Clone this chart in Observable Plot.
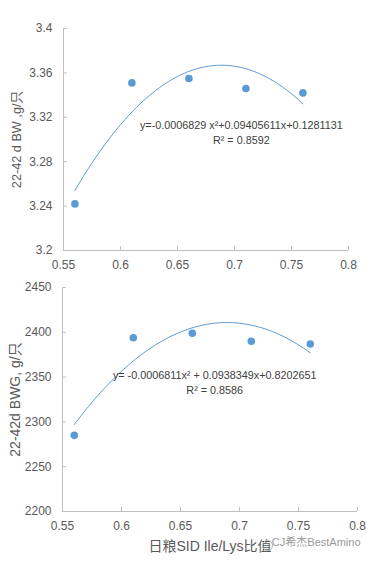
<!DOCTYPE html>
<html><head><meta charset="utf-8">
<script src="https://cdn.jsdelivr.net/npm/d3@7"></script>
<script src="https://cdn.jsdelivr.net/npm/@observablehq/plot@0.6"></script>
<style>
body{margin:0;background:#fff;}
#c{width:371px;}
#c svg{display:block;}
</style></head><body><div id="c"></div>
<script>
// ---- data ----
const ratio = [0.56, 0.61, 0.66, 0.71, 0.76];
const bw = [3.242, 3.351, 3.355, 3.346, 3.342];
const bwg = [2285, 2394, 2399, 2390, 2387];

const xTicks = [0.55, 0.6, 0.65, 0.7, 0.75, 0.8];
const xTickLabels = ["0.55", "0.6", "0.65", "0.7", "0.75", "0.8"];
const bwTicks = [3.2, 3.24, 3.28, 3.32, 3.36, 3.4];
const bwTickLabels = ["3.2", "3.24", "3.28", "3.32", "3.36", "3.4"];
const bwgTicks = [2200, 2250, 2300, 2350, 2400, 2450];
const bwgTickLabels = ["2200", "2250", "2300", "2350", "2400", "2450"];

const bwTitle = "22-42 d BW ,g/只";
const bwgTitle = "22-42d BWG, g/只";
const xTitle = "日粮SID Ile/Lys比值";
const bwEquation = ["y=-0.0006829 x²+0.09405611x+0.1281131", "R² = 0.8592"];
const bwgEquation = ["y= -0.0006811x² + 0.0938349x+0.8202651", "R² = 0.8586"];
// annotation anchors (data coordinates)
const bwEqX = [0.706, 0.706];
const bwEqY = [3.3126, 3.299];
const bwgEqX = [0.679, 0.679];
const bwgEqY = [2351.5, 2334.5];
const watermark = "CJ希杰BestAmino";

// ---- quadratic least-squares trendline computed from the data ----
function quadFit(xs, ys) {
  const m = d3.mean(xs);
  const S = [0, 0, 0, 0, 0], T = [0, 0, 0];
  xs.forEach((x, i) => {
    const u = x - m;
    for (let k = 0; k < 5; k++) S[k] += u ** k;
    for (let k = 0; k < 3; k++) T[k] += ys[i] * u ** k;
  });
  const A = [[S[0], S[1], S[2], T[0]], [S[1], S[2], S[3], T[1]], [S[2], S[3], S[4], T[2]]];
  for (let i = 0; i < 3; i++) {
    for (let j = i + 1; j < 3; j++) {
      const f = A[j][i] / A[i][i];
      for (let k = i; k < 4; k++) A[j][k] -= f * A[i][k];
    }
  }
  const c = [0, 0, 0];
  for (let i = 2; i >= 0; i--) {
    let s = A[i][3];
    for (let k = i + 1; k < 3; k++) s -= A[i][k] * c[k];
    c[i] = s / A[i][i];
  }
  return x => c[0] + c[1] * (x - m) + c[2] * (x - m) ** 2;
}
function trend(xs, ys) {
  const f = quadFit(xs, ys);
  const [x0, x1] = d3.extent(xs);
  return d3.range(0, 101).map(i => { const x = x0 + (x1 - x0) * i / 100; return {x, y: f(x)}; });
}

const blue = "#5b9bd5", axisGrey = "#bfbfbf", textGrey = "#595959";
const font = "'Liberation Sans', 'Noto Sans CJK SC', sans-serif";

function chart({ys, yDomain, yTicks, yTickLabels, yTitle, yTitleSize, eq, eqX, eqY, height, margins, showX, yLabelOffset}) {
  const pts = ratio.map((x, i) => ({x, y: ys[i]}));
  const xFmt = new Map(xTicks.map((t, i) => [t, xTickLabels[i]]));
  const yFmt = new Map(yTicks.map((t, i) => [t, yTickLabels[i]]));
  const marks = [
    Plot.ruleY([yDomain[0]], {stroke: axisGrey}),
    Plot.ruleX([xTicks[0]], {stroke: axisGrey}),
    Plot.axisX(xTicks, {tickSize: -4, tickPadding: 14, stroke: axisGrey, fill: textGrey, fontSize: 12,
      tickFormat: d => xFmt.get(d),
      label: showX ? xTitle : null, labelAnchor: "center", labelArrow: "none", labelOffset: 39}),
    Plot.axisY(yTicks, {tickSize: -4, tickPadding: 15, stroke: axisGrey, fill: textGrey, fontSize: 12,
      tickFormat: d => yFmt.get(d),
      label: yTitle, labelAnchor: "center", labelArrow: "none", labelOffset: yLabelOffset}),
    Plot.line(trend(ratio, ys), {x: "x", y: "y", stroke: blue, strokeWidth: 1}),
    Plot.dot(pts, {x: "x", y: "y", r: 3.8, fill: blue, stroke: "none"}),
    Plot.text(eq, {x: (d, i) => eqX[i], y: (d, i) => eqY[i], text: d => d, fill: "#404040", fontSize: 10.8, textAnchor: "middle"})
  ];
  if (showX) {
    marks.push(Plot.text([watermark], {frameAnchor: "bottom-right", dx: 3, dy: 34, textAnchor: "end", fill: "#9a9a9a", fontSize: 11}));
    marks.push(Plot.dot([0], {frameAnchor: "bottom-right", dx: -90, dy: 34, r: 5, fill: "none", stroke: "#b0b0b0", strokeWidth: 1}));
  }
  const svg = Plot.plot({
    width: 371, height,
    ...margins,
    style: {fontFamily: font, fontSize: "12px", color: textGrey, background: "transparent"},
    x: {domain: [xTicks[0], xTicks[xTicks.length - 1]]},
    y: {domain: yDomain},
    marks
  });
  svg.querySelectorAll("[aria-label='x-axis label']").forEach(el => el.setAttribute("font-size", 14));
  svg.querySelectorAll("[aria-label='y-axis label']").forEach(el => el.setAttribute("font-size", yTitleSize));
  return svg;
}

const c = document.getElementById("c");
c.appendChild(chart({
  ys: bw, yDomain: [3.2, 3.4], yTicks: bwTicks, yTickLabels: bwTickLabels, yTitle: bwTitle, yTitleSize: 12.7,
  eq: bwEquation, eqX: bwEqX, eqY: bwEqY, height: 280,
  margins: {marginLeft: 63, marginRight: 23, marginTop: 28, marginBottom: 30},
  showX: false, yLabelOffset: 52
}));
c.appendChild(chart({
  ys: bwg, yDomain: [2200, 2450], yTicks: bwgTicks, yTickLabels: bwgTickLabels, yTitle: bwgTitle, yTitleSize: 14,
  eq: bwgEquation, eqX: bwgEqX, eqY: bwgEqY, height: 282,
  margins: {marginLeft: 62, marginRight: 14, marginTop: 7, marginBottom: 51},
  showX: true, yLabelOffset: 52
}));
</script>
</body></html>
